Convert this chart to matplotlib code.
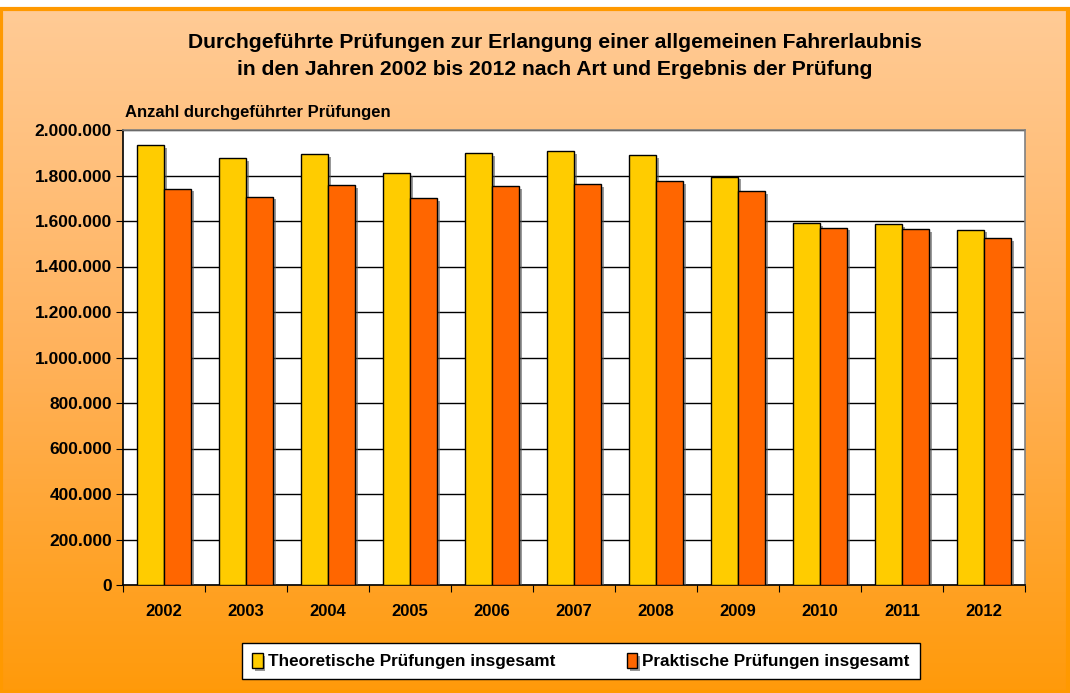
import numpy as np
import matplotlib
matplotlib.use("Agg")
import matplotlib.pyplot as plt
import matplotlib.patheffects as pe
from matplotlib.patches import Rectangle
from matplotlib.colors import LinearSegmentedColormap
from matplotlib.ticker import FuncFormatter, MultipleLocator

# Daten
jahre = ["2002", "2003", "2004", "2005", "2006", "2007", "2008", "2009", "2010", "2011", "2012"]
theoretisch = [1933000, 1878000, 1893000, 1812000, 1897000, 1906000, 1889000, 1795000, 1590000, 1588000, 1562000]
praktisch = [1742000, 1707000, 1757000, 1701000, 1755000, 1761000, 1774000, 1733000, 1571000, 1565000, 1524000]

titel = ("Durchgeführte Prüfungen zur Erlangung einer allgemeinen Fahrerlaubnis\n"
         "in den Jahren 2002 bis 2012 nach Art und Ergebnis der Prüfung")
y_titel = "Anzahl durchgeführter Prüfungen"
legende = ["Theoretische Prüfungen insgesamt", "Praktische Prüfungen insgesamt"]

plt.rcParams["font.family"] = ["Liberation Sans", "DejaVu Sans"]
plt.rcParams["font.weight"] = "bold"

W, H = 1070, 693
fig = plt.figure(figsize=(W / 100, H / 100), dpi=100)
fig.patch.set_facecolor("white")

# Hintergrund mit Verlauf
bg = fig.add_axes([0, 0, 1, 1 - 8 / H], zorder=-10)
cmap = LinearSegmentedColormap.from_list("bg", ["#FFCB96", "#FFB25C", "#FF9A0A"])
grad = np.linspace(0, 1, 256).reshape(-1, 1)
bg.imshow(grad, aspect="auto", cmap=cmap, extent=[0, 1, 0, 1], origin="upper")
bg.set_axis_off()
fig.patches.append(Rectangle((0.001, 0.001), 0.997, 1 - 8 / H - 0.002, transform=fig.transFigure,
                             fill=False, edgecolor="#FF9900", linewidth=3, zorder=-5))

ax = fig.add_axes([123 / W, 1 - 585 / H, 902 / W, 455 / H])
ax.set_facecolor("white")

x = np.arange(len(jahre))
bw = 0.33
schatten = [pe.SimplePatchShadow(offset=(2, -2), shadow_rgbFace="#555555", alpha=0.6), pe.Normal()]
b1 = ax.bar(x - bw / 2, theoretisch, bw, color="#FFCC00", edgecolor="black", linewidth=1, zorder=3,
            label=legende[0])
b2 = ax.bar(x + bw / 2, praktisch, bw, color="#FF6600", edgecolor="black", linewidth=1, zorder=3,
            label=legende[1])
for b in list(b1) + list(b2):
    b.set_path_effects(schatten)

ax.set_xlim(-0.5, len(jahre) - 0.5)
ax.set_ylim(0, 2000000)
ax.yaxis.set_major_locator(MultipleLocator(200000))
ax.yaxis.set_major_formatter(FuncFormatter(lambda v, p: f"{int(v):,}".replace(",", ".")))
ax.grid(axis="y", color="black", linewidth=1, zorder=0)
ax.set_axisbelow(True)

ax.set_xticks(np.arange(len(jahre) + 1) - 0.5)
ax.set_xticklabels([])
ax.set_xticks(x, minor=True)
ax.set_xticklabels(jahre, minor=True)
ax.tick_params(axis="x", which="major", length=5, direction="out", color="black")
ax.tick_params(axis="x", which="minor", length=0, pad=14, labelsize=12)
ax.tick_params(axis="y", length=5, direction="out", labelsize=12.5, pad=3)
for lbl in ax.get_xticklabels(minor=True) + ax.get_yticklabels():
    lbl.set_fontweight("bold")

ax.spines["left"].set_color("black")
ax.spines["bottom"].set_color("black")
ax.spines["top"].set_color("#808080")
ax.spines["right"].set_color("#808080")
for s in ax.spines.values():
    s.set_linewidth(1.2)

fig.text(555 / W, 1 - 56 / H, titel, ha="center", va="center", fontsize=15.2, fontweight="bold",
         linespacing=1.5)
fig.text(125 / W, 1 - 113 / H, y_titel, ha="left", va="center", fontsize=12, fontweight="bold")

leg = fig.legend(handles=[b1, b2], labels=legende, loc="center", bbox_to_anchor=(581 / W, 1 - 661 / H),
                 ncol=2, frameon=True, fancybox=False, edgecolor="black", facecolor="white",
                 framealpha=1, prop={"weight": "bold", "size": 12.3}, handlelength=0.6,
                 handleheight=1.0, handletextpad=0.3, columnspacing=4.2, borderpad=0.6,
                 borderaxespad=0)
leg.get_frame().set_linewidth(1)

fig.savefig("out.png", dpi=100)
